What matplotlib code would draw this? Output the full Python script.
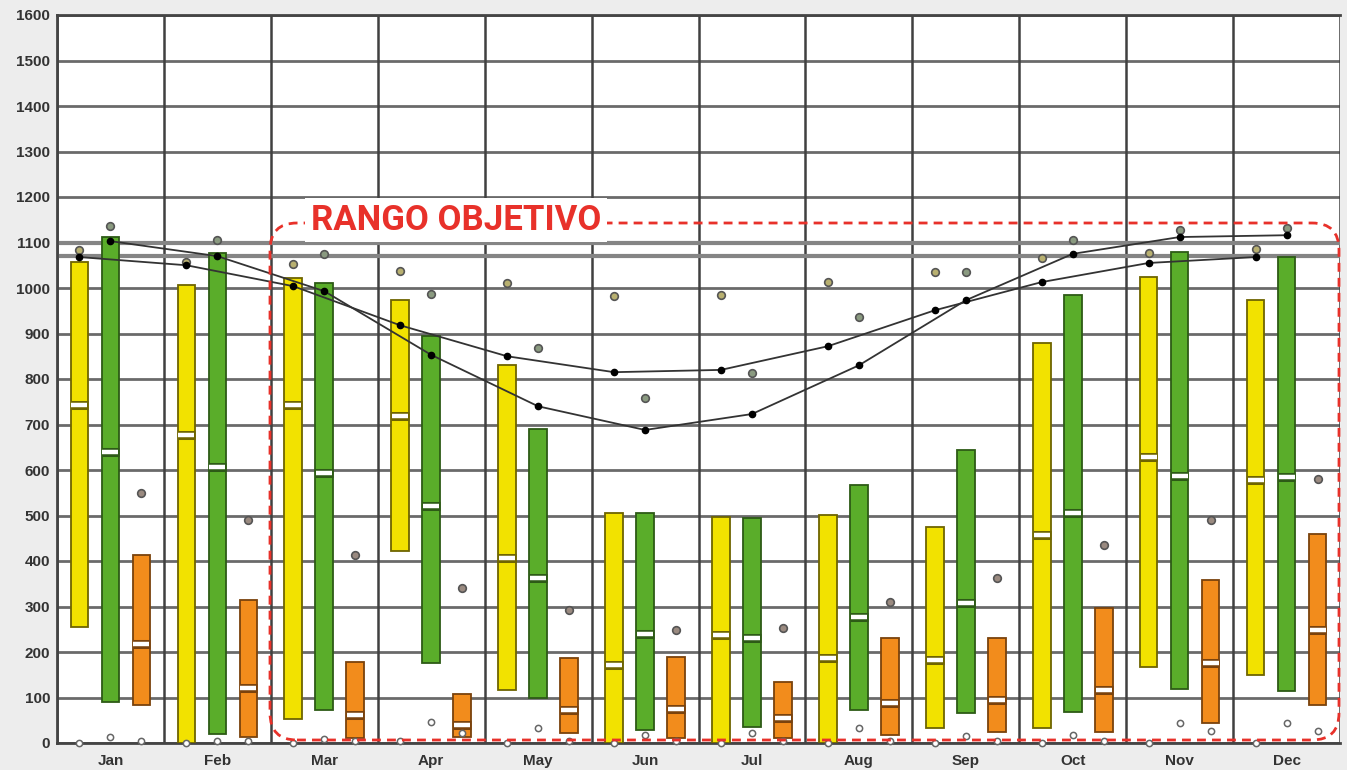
import matplotlib
matplotlib.use('Agg')
from matplotlib import pyplot as plt
from matplotlib.patches import FancyBboxPatch
import numpy as np

months = ['Jan', 'Feb', 'Mar', 'Apr', 'May', 'Jun', 'Jul', 'Aug', 'Sep', 'Oct', 'Nov', 'Dec']

# yellow series
yellow_low = [255, 0, 53, 422, 116, 0, 0, 0, 33, 33, 167, 149]
yellow_high = [1057, 1007, 1022, 974, 831, 505, 497, 501, 475, 879, 1024, 973]
yellow_med = [743, 677, 743, 718, 406, 171, 237, 187, 182, 457, 629, 578]
yellow_out_hi = [1083, 1057, 1053, 1037, 1011, 982, 985, 1013, 1035, 1066, 1077, 1085]
yellow_out_lo = [0, 0, 0, 5, 0, 0, 0, 0, 0, 0, 0, 0]

# green series
green_low = [90, 20, 73, 176, 99, 29, 35, 73, 66, 68, 119, 114]
green_high = [1112, 1077, 1011, 895, 690, 505, 494, 567, 644, 985, 1079, 1068]
green_med = [640, 607, 593, 521, 363, 240, 230, 277, 308, 505, 587, 585]
green_out_hi = [1136, 1105, 1075, 987, 868, 758, 813, 936, 1035, 1105, 1127, 1132]
green_out_lo = [13, 5, 8, 46, 33, 17, 22, 33, 15, 17, 44, 44]

# orange series
orange_low = [83, 13, 11, 13, 22, 10, 11, 18, 24, 24, 44, 83]
orange_high = [413, 314, 178, 108, 187, 189, 134, 231, 231, 297, 358, 459]
orange_med = [218, 121, 62, 40, 72, 75, 55, 88, 95, 116, 176, 248]
orange_out_hi = [549, 490, 413, 341, 292, 248, 253, 310, 363, 435, 490, 580]
orange_out_lo = [5, 5, 5, 22, 5, 5, 5, 5, 5, 5, 26, 26]

# the two curves (through yellow and green positions)
curve_yellow = [1068, 1050, 1004, 918, 850, 815, 820, 872, 951, 1013, 1055, 1068]
curve_green = [1103, 1070, 993, 853, 740, 688, 723, 830, 973, 1075, 1112, 1116]

ref_lines = [1100, 1070]

fig = plt.figure(figsize=(13.47, 7.70), dpi=100, facecolor='#ededed')
ax = fig.add_axes([57 / 1347, 27 / 770, 1283 / 1347, 728 / 770])
ax.set_facecolor('white')

x = np.arange(len(months))
bw = 0.165

series = [
    (-0.29, yellow_low, yellow_high, yellow_med, yellow_out_hi, yellow_out_lo, '#f2e200', '#6e6400', '#b8b070'),
    (0.0, green_low, green_high, green_med, green_out_hi, green_out_lo, '#5aad2a', '#2d5a16', '#8a9a80'),
    (0.29, orange_low, orange_high, orange_med, orange_out_hi, orange_out_lo, '#f28c1c', '#7a420c', '#9a8a80'),
]

for off, lo, hi, med, out_hi, out_lo, fc, ec, dotc in series:
    lo = np.array(lo)
    hi = np.array(hi)
    ax.bar(x + off, hi - lo, bottom=lo, width=bw, color=fc, edgecolor=ec, linewidth=1.3, zorder=3)
    # median marks: dark band with white centre
    ax.hlines(med, x + off - bw / 2, x + off + bw / 2, colors=ec, linewidth=6.5, zorder=4)
    ax.hlines(med, x + off - bw / 2 + 0.008, x + off + bw / 2 - 0.008, colors='white', linewidth=3.2, zorder=5)
    ax.plot(x + off, out_hi, 'o', ms=5.5, mfc=dotc, mec='#555555', mew=1.2, zorder=6, clip_on=False)
    ax.plot(x + off, out_lo, 'o', ms=4.5, mfc='white', mec='#666666', mew=1.1, zorder=6, clip_on=False)

ax.plot(x - 0.29, curve_yellow, '-', color='#333333', lw=1.3, zorder=7)
ax.plot(x - 0.29, curve_yellow, 'o', color='black', ms=4.5, zorder=8)
ax.plot(x, curve_green, '-', color='#333333', lw=1.3, zorder=7)
ax.plot(x, curve_green, 'o', color='black', ms=4.5, zorder=8)

for v in ref_lines:
    ax.axhline(v, color='#858585', lw=3, zorder=2)

# grid
for v in range(0, 1700, 100):
    ax.axhline(v, color='#6a6a6a', lw=2.0, zorder=1)
for b in np.arange(-0.5, 12, 1):
    ax.axvline(b, color='#404040', lw=1.8, zorder=1)

ax.set_xlim(-0.5, 11.5)
ax.set_ylim(0, 1600)
ax.set_yticks(range(0, 1700, 100))
ax.set_xticks(x)
ax.set_xticklabels(months)
ax.tick_params(length=0, labelsize=11, labelcolor='#333333')
ax.tick_params(axis='x', pad=8)
ax.tick_params(axis='y', pad=5)
for lab in ax.get_xticklabels() + ax.get_yticklabels():
    lab.set_fontweight('bold')
    lab.set_family('Liberation Sans')
for s in ax.spines.values():
    s.set_color('#444444')
    s.set_linewidth(2)
ax.spines['right'].set_visible(False)

# target range frame (in inches so the corners stay round)
frame = FancyBboxPatch((2.70, 0.30), 10.69, 5.17,
                       boxstyle='round,pad=0,rounding_size=0.27',
                       transform=fig.dpi_scale_trans, fill=False,
                       edgecolor='#e8312a', lw=2.0, linestyle=(0, (3.2, 2.2)), zorder=10)
fig.add_artist(frame)
fig.text(456 / 1347, 1 - 220 / 770, 'RANGO OBJETIVO', ha='center', va='center',
         fontsize=25, fontweight='bold', family='Roboto', color='#e8312a', zorder=11,
         bbox=dict(facecolor='white', edgecolor='none', pad=4))

fig.savefig('out.png', dpi=100, facecolor=fig.get_facecolor())
